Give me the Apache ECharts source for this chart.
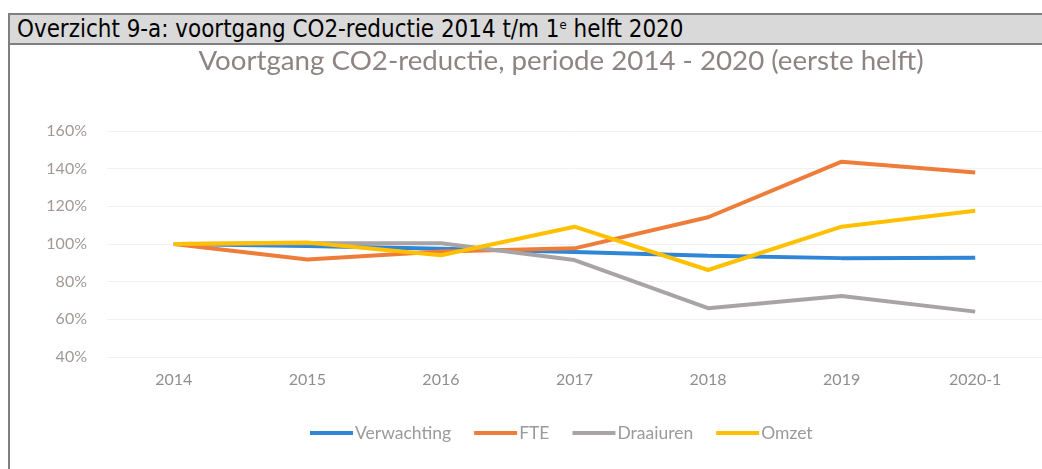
<!DOCTYPE html>
<html>
<head>
<meta charset="utf-8">
<script src="https://cdn.jsdelivr.net/npm/echarts@6/dist/echarts.min.js"></script>
<style>
html,body{margin:0;padding:0;background:#fff;width:1042px;height:469px;overflow:hidden;}
#chart{position:absolute;left:0;top:0;width:1042px;height:469px;}
#hdr{position:absolute;left:8px;top:13px;width:1040px;height:28px;background:#d9d9d9;
 border-top:2px solid #7f7f7f;border-bottom:2px solid #7f7f7f;border-left:2px solid #7f7f7f;
 font-family:"DejaVu Sans Condensed","DejaVu Sans",sans-serif;font-size:23.9px;line-height:29px;color:#000;
 padding-left:7px;box-sizing:content-box;white-space:nowrap;}
#hdr sup{font-size:13px;vertical-align:top;line-height:20px;}
#lb{position:absolute;left:8px;top:45px;width:2px;height:424px;background:#7f7f7f;}
</style>
</head>
<body>
<div id="chart"></div>
<div id="hdr">Overzicht 9-a: voortgang CO2-reductie 2014 t/m 1<sup>e</sup> helft 2020</div>
<div id="lb"></div>
<script>
const categories = ['2014','2015','2016','2017','2018','2019','2020-1'];
const verwachting = [100, 99, 97.5, 95.8, 93.8, 92.5, 92.7];
const fte = [100, 91.8, 96, 97.7, 114.2, 143.7, 138];
const draaiuren = [100, 100.4, 100.4, 91.5, 65.9, 72.4, 64.1];
const omzet = [100, 100.8, 94, 109.2, 86.2, 109.2, 117.7];
const seriesNames = ['Verwachting','FTE','Draaiuren','Omzet'];
const colors = ['#2f86d6','#ee7d3a','#a8a4a6','#ffc000'];
const chartTitle = 'Voortgang CO2-reductie, periode 2014 - 2020 (eerste helft)';

const chart = echarts.init(document.getElementById('chart'), null, {renderer:'canvas'});
const dataSets = [verwachting, fte, draaiuren, omzet];
chart.setOption({
  animation:false,
  backgroundColor:'#fff',
  color:colors,
  title:{text:chartTitle,left:556,top:42,textAlign:'center',
    textStyle:{fontFamily:'Lato, "Open Sans", sans-serif',fontSize:27.7,fontWeight:'normal',color:'#8e8484'}},
  legend:{bottom:22,left:305,icon:'rect',itemWidth:43,itemHeight:4,itemGap:23,
    textStyle:{fontFamily:'Lato, "Open Sans", sans-serif',fontSize:17.5,color:'#9a9a9a',padding:[0,0,0,-3]},
    data:seriesNames},
  grid:{left:107,right:-16,top:131,bottom:112},
  xAxis:{type:'category',data:categories,boundaryGap:true,
    axisLine:{show:false},axisTick:{show:false},
    axisLabel:{margin:15,fontFamily:'Lato, "Open Sans", sans-serif',fontSize:16,color:'#8f8f8f'}},
  yAxis:{type:'value',min:40,max:160,interval:20,
    axisLabel:{formatter:'{value}%',margin:20,fontFamily:'Lato, "Open Sans", sans-serif',fontSize:16,color:'#a39898'},
    splitLine:{lineStyle:{color:'#f2f2f2',width:1}},axisLine:{show:false},axisTick:{show:false}},
  series: seriesNames.map((n,i)=>({name:n,type:'line',data:dataSets[i],symbol:'none',
    lineStyle:{width:4,color:colors[i]}}))
});
</script>
</body>
</html>
